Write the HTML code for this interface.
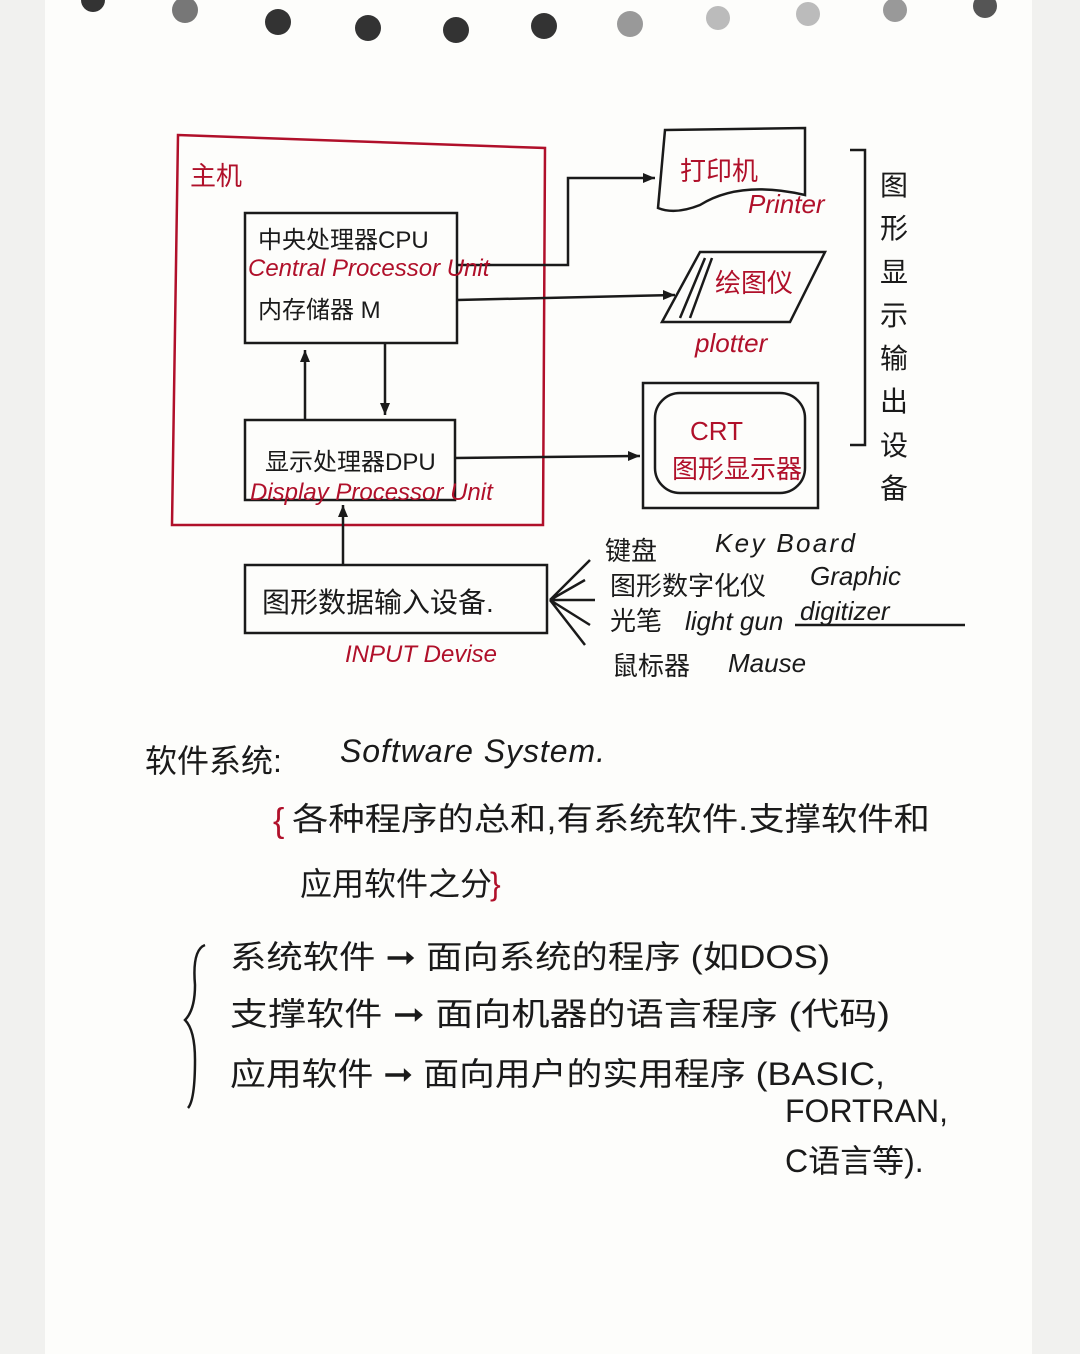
<!DOCTYPE html>
<html><head><meta charset="utf-8"><style>
body{margin:0;background:#fff}
svg{display:block}
text{font-family:"Liberation Sans","Noto Sans CJK SC",sans-serif}
.k{fill:#1a1a1a}
.r{fill:#b0102a}
</style></head><body>
<svg width="1080" height="1354" viewBox="0 0 1080 1354" xmlns="http://www.w3.org/2000/svg">
<rect width="1080" height="1354" fill="#fdfdfb"/>
<rect x="0" y="0" width="45" height="1354" fill="#f1f1ef"/>
<rect x="1032" y="0" width="48" height="1354" fill="#f1f1ef"/>
<g fill="#333">
<circle cx="93" cy="0" r="12"/><circle cx="185" cy="10" r="13" fill="#777"/><circle cx="278" cy="22" r="13"/>
<circle cx="368" cy="28" r="13"/><circle cx="456" cy="30" r="13"/><circle cx="544" cy="26" r="13"/>
<circle cx="630" cy="24" r="13" fill="#999"/><circle cx="718" cy="18" r="12" fill="#bbb"/><circle cx="808" cy="14" r="12" fill="#bbb"/>
<circle cx="895" cy="10" r="12" fill="#999"/><circle cx="985" cy="6" r="12" fill="#555"/>
</g>
<g fill="none" stroke-width="2.5">
<path d="M178 135 L545 148 L543 525 L172 525 Z" stroke="#b0102a"/>
<g stroke="#1a1a1a">
<rect x="245" y="213" width="212" height="130"/>
<rect x="245" y="420" width="210" height="80"/>
<rect x="245" y="565" width="302" height="68"/>
<path d="M665 130 L805 128 L805 195 Q740 180 700 205 Q675 215 658 208 Z"/>
<path d="M700 252 L825 252 L790 322 L662 322 Z M705 258 L680 318 M712 258 L690 318"/>
<rect x="643" y="383" width="175" height="125"/>
<rect x="655" y="393" width="150" height="100" rx="25"/>
<path d="M850 150 L865 150 L865 445 L850 445"/>
<path d="M457 265 L568 265 L568 178 L655 178"/>
<path d="M457 300 L675 295"/>
<path d="M455 458 L640 456"/>
<path d="M305 420 L305 350"/>
<path d="M385 343 L385 415"/>
<path d="M343 565 L343 505"/>
<path d="M550 600 L590 560 M550 600 L585 580 M550 600 L595 600 M550 600 L590 625 M550 600 L585 645"/>
<path d="M795 625 L965 625"/>
<path d="M205 945 Q192 950 195 985 Q195 1010 185 1020 Q195 1030 195 1060 Q195 1100 188 1108"/>
</g>
</g>
<g fill="#1a1a1a">
<path d="M655 178 l-12 -5 v10z M675 295 l-12 -5 v10z M640 456 l-12 -5 v10z M305 350 l-5 12 h10z M385 415 l-5 -12 h10z M343 505 l-5 12 h10z"/>
</g>
<g font-size="26">
<text x="190" y="185" class="r">主机</text>
<text x="258" y="248" class="k" font-size="24">中央处理器CPU</text>
<text x="248" y="276" class="r" font-size="24" font-style="italic">Central Processor Unit</text>
<text x="258" y="318" class="k" font-size="24">内存储器 M</text>
<text x="265" y="470" class="k" font-size="24">显示处理器DPU</text>
<text x="250" y="500" class="r" font-size="24" font-style="italic">Display Processor Unit</text>
<text x="262" y="612" class="k" font-size="28">图形数据输入设备.</text>
<text x="345" y="662" class="r" font-size="24" font-style="italic">INPUT Devise</text>
<text x="680" y="180" class="r">打印机</text>
<text x="748" y="213" class="r" font-style="italic">Printer</text>
<text x="715" y="292" class="r">绘图仪</text>
<text x="695" y="352" class="r" font-style="italic">plotter</text>
<text x="690" y="440" class="r">CRT</text>
<text x="672" y="478" class="r">图形显示器</text>
<text x="605" y="560" class="k">键盘</text><text x="715" y="552" class="k" font-style="italic" textLength="140">Key Board</text>
<text x="610" y="595" class="k">图形数字化仪</text><text x="810" y="585" class="k" font-style="italic">Graphic</text>
<text x="610" y="630" class="k">光笔</text><text x="685" y="630" class="k" font-style="italic">light gun</text><text x="800" y="620" class="k" font-style="italic">digitizer</text>
<text x="612" y="675" class="k">鼠标器</text><text x="728" y="672" class="k" font-style="italic">Mause</text>
</g>
<g font-size="28" class="k">
<text x="880" y="195">图</text><text x="880" y="238">形</text><text x="880" y="282">显</text><text x="880" y="325">示</text>
<text x="880" y="368">输</text><text x="880" y="411">出</text><text x="880" y="455">设</text><text x="880" y="498">备</text>
</g>
<g font-size="32" class="k">
<text x="145" y="772">软件系统:</text><text x="340" y="762" font-style="italic" textLength="265">Software System.</text>
<text x="292" y="830" textLength="638" lengthAdjust="spacingAndGlyphs">各种程序的总和,有系统软件.支撑软件和</text>
<text x="300" y="895">应用软件之分</text><text x="490" y="895" class="r">}</text>
<text x="230" y="968" textLength="600" lengthAdjust="spacingAndGlyphs">系统软件 ➞ 面向系统的程序 (如DOS)</text>
<text x="230" y="1025" textLength="660" lengthAdjust="spacingAndGlyphs">支撑软件 ➞ 面向机器的语言程序 (代码)</text>
<text x="230" y="1085" textLength="655" lengthAdjust="spacingAndGlyphs">应用软件 ➞ 面向用户的实用程序 (BASIC,</text>
<text x="785" y="1122">FORTRAN,</text>
<text x="785" y="1172">C语言等).</text>
</g>
<text x="273" y="832" class="r" font-size="34">{</text>
</svg>
</body></html>
